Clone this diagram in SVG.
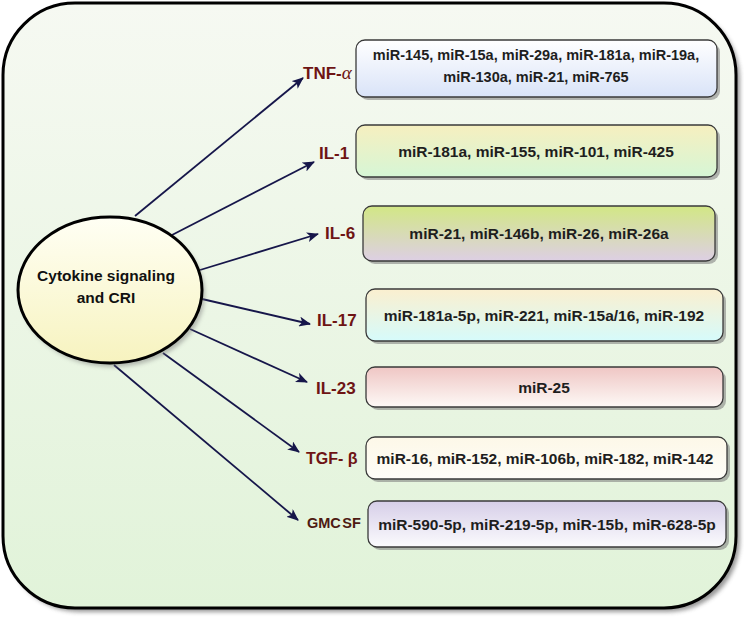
<svg xmlns="http://www.w3.org/2000/svg" width="744" height="622" viewBox="0 0 744 622">
<defs>
<style>
.box{stroke:#3a3a3a;stroke-width:1.3}
.shadow{fill:#7a7a7a;opacity:0.55}
.mir{font-family:"Liberation Sans",Arial,sans-serif;font-weight:bold;font-size:15.5px;fill:#1e1e1e;text-anchor:middle}
.lbl{font-family:"Liberation Sans",Arial,sans-serif;font-weight:bold;font-size:17px;fill:#6e1414}
.conn{stroke:#16164a;stroke-width:1.8;fill:none;marker-end:url(#ah)}
</style>
<marker id="ah" viewBox="0 0 12 10" refX="11" refY="5" markerWidth="12" markerHeight="10" markerUnits="userSpaceOnUse" orient="auto">
<path d="M0,0 L12,5 L0,10 L3,5 Z" fill="#16164a"/>
</marker>
<linearGradient id="gBg" x1="0" y1="0" x2="0" y2="1"><stop offset="0" stop-color="#f6f9f2"/><stop offset="1" stop-color="#e1f3d9"/></linearGradient>
<linearGradient id="gEl" x1="0" y1="0" x2="0" y2="1"><stop offset="0" stop-color="#fffff4"/><stop offset="1" stop-color="#f7f3bf"/></linearGradient>
<linearGradient id="g1" x1="0" y1="0" x2="0" y2="1"><stop offset="0" stop-color="#ffffff"/><stop offset="1" stop-color="#d9e3f8"/></linearGradient>
<linearGradient id="g2" x1="0" y1="0" x2="0" y2="1"><stop offset="0" stop-color="#f6efbf"/><stop offset="1" stop-color="#d6f6d6"/></linearGradient>
<linearGradient id="g3" x1="0" y1="0" x2="0" y2="1"><stop offset="0" stop-color="#d2e785"/><stop offset="1" stop-color="#ddcfe4"/></linearGradient>
<linearGradient id="g4" x1="0" y1="0" x2="0" y2="1"><stop offset="0" stop-color="#fbefcf"/><stop offset="1" stop-color="#d6fbfb"/></linearGradient>
<linearGradient id="g5" x1="0" y1="0" x2="0" y2="1"><stop offset="0" stop-color="#efc6c4"/><stop offset="1" stop-color="#fdf9f6"/></linearGradient>
<linearGradient id="g6" x1="0" y1="0" x2="0" y2="1"><stop offset="0" stop-color="#fdf8e8"/><stop offset="1" stop-color="#fefdf8"/></linearGradient>
<linearGradient id="g7" x1="0" y1="0" x2="0" y2="1"><stop offset="0" stop-color="#d6cee8"/><stop offset="1" stop-color="#fbfbfd"/></linearGradient>
<filter id="blur" x="-5%" y="-5%" width="110%" height="110%"><feGaussianBlur stdDeviation="2"/></filter>
</defs>

<g id="frame">
<rect x="7" y="7" width="733" height="605" rx="72" fill="#555" opacity="0.6" filter="url(#blur)"/>
<rect x="3" y="3" width="733" height="605" rx="72" fill="url(#gBg)" stroke="#000" stroke-width="3"/>
</g>

<g id="connectors">
<line class="conn" x1="135" y1="216" x2="303" y2="78"/>
<line class="conn" x1="172" y1="235" x2="314" y2="162"/>
<line class="conn" x1="200" y1="270" x2="318" y2="234"/>
<line class="conn" x1="202" y1="299" x2="310" y2="324"/>
<line class="conn" x1="190" y1="329" x2="307" y2="382"/>
<line class="conn" x1="163" y1="353" x2="299" y2="452"/>
<line class="conn" x1="114" y1="365" x2="298" y2="520"/>
</g>

<g id="center">
<ellipse cx="113" cy="294" rx="92" ry="73" fill="#777" opacity="0.5" filter="url(#blur)"/>
<ellipse cx="110" cy="290" rx="92" ry="73" fill="url(#gEl)" stroke="#000" stroke-width="3"/>
<text class="mir" x="106" y="281" style="fill:#111">Cytokine signaling</text>
<text class="mir" x="106" y="303" style="fill:#111">and CRI</text>
</g>

<g id="tnf">
<text class="lbl" x="303" y="79">TNF-<tspan style="font-family:'Liberation Serif',serif;font-style:italic;font-weight:normal;font-size:19px">α</tspan></text>
<rect class="shadow" x="359" y="43" width="361" height="57" rx="9"/>
<rect class="box" x="356" y="40" width="361" height="57" rx="9" fill="url(#g1)"/>
<text class="mir" x="536" y="60" style="font-size:14.5px">miR-145, miR-15a, miR-29a, miR-181a, miR-19a,</text>
<text class="mir" x="536" y="82" style="font-size:14.5px">miR-130a, miR-21, miR-765</text>
</g>

<g id="il1">
<text class="lbl" x="319" y="159">IL-1</text>
<rect class="shadow" x="359" y="128" width="361" height="52" rx="9"/>
<rect class="box" x="356" y="125" width="361" height="52" rx="9" fill="url(#g2)"/>
<text class="mir" x="536" y="157">miR-181a, miR-155, miR-101, miR-425</text>
</g>

<g id="il6">
<text class="lbl" x="325" y="239">IL-6</text>
<rect class="shadow" x="366" y="209" width="352" height="55" rx="9"/>
<rect class="box" x="363" y="206" width="352" height="55" rx="9" fill="url(#g3)"/>
<text class="mir" x="539" y="239">miR-21, miR-146b, miR-26, miR-26a</text>
</g>

<g id="il17">
<text class="lbl" x="317" y="326">IL-17</text>
<rect class="shadow" x="369" y="292" width="357" height="52" rx="9"/>
<rect class="box" x="366" y="289" width="357" height="52" rx="9" fill="url(#g4)"/>
<text class="mir" x="544" y="321">miR-181a-5p, miR-221, miR-15a/16, miR-192</text>
</g>

<g id="il23">
<text class="lbl" x="316" y="394">IL-23</text>
<rect class="shadow" x="369" y="370" width="357" height="40" rx="9"/>
<rect class="box" x="366" y="367" width="357" height="40" rx="9" fill="url(#g5)"/>
<text class="mir" x="544" y="393">miR-25</text>
</g>

<g id="tgf">
<text class="lbl" x="306" y="464" style="font-size:16px">TGF- β</text>
<rect class="shadow" x="369" y="440" width="361" height="42" rx="9"/>
<rect class="box" x="366" y="437" width="361" height="42" rx="9" fill="url(#g6)"/>
<text class="mir" x="545" y="464">miR-16, miR-152, miR-106b, miR-182, miR-142</text>
</g>

<g id="gmcsf">
<text class="lbl" x="307" y="528" style="font-size:14.5px;fill:#4e1a12">GMC<tspan dx="1.5">SF</tspan></text>
<rect class="shadow" x="371" y="504" width="358" height="46" rx="9"/>
<rect class="box" x="368" y="501" width="358" height="46" rx="9" fill="url(#g7)"/>
<text class="mir" x="547" y="530">miR-590-5p, miR-219-5p, miR-15b, miR-628-5p</text>
</g>
</svg>
